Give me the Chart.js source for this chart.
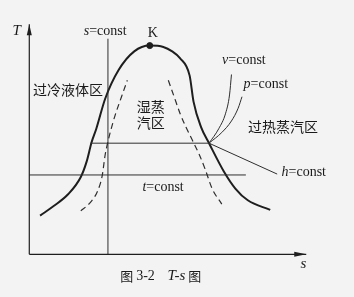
<!DOCTYPE html>
<html>
<head>
<meta charset="utf-8">
<script src="https://cdn.jsdelivr.net/npm/chart.js@4/dist/chart.umd.min.js"></script>
<style>
  html, body { margin: 0; padding: 0; background: #f3f3f3; }
  #wrap { width: 354px; height: 297px; }
</style>
</head>
<body>
<div id="wrap"><canvas id="ts" width="354" height="297"></canvas></div>
<script>
// Saturation dome (entropy s, temperature T in arbitrary units)
const domeS = [0.39, 0.88, 1.40, 1.86, 2.07, 2.25, 2.42, 2.74, 3.23, 3.79, 4.35, 4.84, 5.16, 5.44, 5.79, 5.93, 6.21, 6.49, 7.02, 7.44, 7.89, 8.70];
const domeT = [1.74, 2.17, 2.70, 3.48, 4.17, 5.04, 5.65, 7.00, 8.30, 9.13, 9.39, 9.33, 9.13, 8.83, 8.04, 6.87, 5.70, 5.00, 3.74, 2.96, 2.43, 2.00];

// Critical point K
const critS = [4.35];
const critT = [9.39];

// Dashed curves inside / beside the dome
const leftDashS = [1.86, 2.18, 2.46, 2.63, 2.74, 2.81, 2.91, 3.09, 3.33, 3.54];
const leftDashT = [1.96, 2.30, 2.83, 3.52, 4.48, 4.91, 5.43, 6.22, 7.09, 7.83];
const rightDashS = [5.02, 5.23, 5.44, 5.65, 5.89, 6.14, 6.35, 6.60, 6.95];
const rightDashT = [7.83, 7.09, 6.35, 5.74, 5.13, 4.48, 3.83, 2.96, 2.26];

// Isolines
const isoS_S = [2.84, 2.84];        // s = const
const isoS_T = [0, 9.70];
const isoT_S = [0, 7.82];           // t = const
const isoT_T = [3.57, 3.57];
const isoP_horizS = [2.21, 6.49];   // saturation temperature line
const isoP_horizT = [5.00, 5.00];
const isoH_S = [6.49, 8.95];        // h = const
const isoH_T = [5.00, 3.61];
const isoV_S = [6.49, 6.84, 7.09, 7.23, 7.30];   // v = const
const isoV_T = [5.00, 5.65, 6.35, 7.17, 8.09];
const isoP_S = [6.49, 6.95, 7.30, 7.54, 7.68];   // p = const
const isoP_T = [5.00, 5.48, 6.00, 6.57, 7.09];

// Coordinate axes
const axisT_S = [0, 0];
const axisT_T = [0, 10.35];
const axisS_S = [0, 10.0];
const axisS_T = [0, 0];

function pts(xs, ys) { return xs.map((x, i) => ({ x: x, y: ys[i] })); }

const INK = '#1e1e1e';
const THIN = '#2e2e2e';
const SERIF = '"Liberation Serif", "DejaVu Serif", serif';
const CJK = '"Noto Sans CJK SC", sans-serif';

// Text labels: segments of [text, font]
const labels = [
  { s: -0.46, T: 10.04, parts: [['T', 'italic 15px ' + SERIF]] },
  { s: 2.74, T: 10.04, parts: [['s', 'italic 14px ' + SERIF], ['=const', '14px ' + SERIF]] },
  { s: 4.46, T: 9.96, parts: [['K', '14px ' + SERIF]] },
  { s: 1.40, T: 7.39, parts: [['过冷液体区', '14px ' + CJK]] },
  { s: 4.39, T: 6.65, parts: [['湿蒸', '14px ' + CJK]] },
  { s: 4.39, T: 5.91, parts: [['汽区', '14px ' + CJK]] },
  { s: 7.75, T: 8.74, parts: [['v', 'italic 14px ' + SERIF], ['=const', '14px ' + SERIF]] },
  { s: 8.54, T: 7.65, parts: [['p', 'italic 14px ' + SERIF], ['=const', '14px ' + SERIF]] },
  { s: 9.16, T: 5.74, parts: [['过热蒸汽区', '14px ' + CJK]] },
  { s: 9.91, T: 3.70, parts: [['h', 'italic 14px ' + SERIF], ['=const', '14px ' + SERIF]] },
  { s: 4.83, T: 3.00, parts: [['t', 'italic 14px ' + SERIF], ['=const', '14px ' + SERIF]] },
  { s: 9.90, T: -0.43, parts: [['s', 'italic 15px ' + SERIF]] },
  { s: 3.91, T: -1.00, parts: [['图 ', '13px ' + CJK], ['3-2', '14px ' + SERIF]] },
  { s: 5.60, T: -1.00, parts: [['T-s', 'italic 15px ' + SERIF], [' 图', '13px ' + CJK]] }
];

const backdrop = {
  id: 'backdrop',
  beforeDraw(chart) {
    const c = chart.ctx;
    c.save();
    c.fillStyle = '#f3f3f3';
    c.fillRect(0, 0, chart.width, chart.height);
    c.restore();
  }
};

const decorations = {
  id: 'decorations',
  afterDatasetsDraw(chart) {
    const c = chart.ctx;
    const xs = chart.scales.x, ys = chart.scales.y;
    c.save();
    // axis arrowheads
    c.fillStyle = INK;
    const tx = xs.getPixelForValue(axisT_S[1]), ty = ys.getPixelForValue(axisT_T[1]);
    c.beginPath();
    c.moveTo(tx, ty);
    c.lineTo(tx - 2.5, ty + 11);
    c.lineTo(tx + 2.5, ty + 11);
    c.closePath();
    c.fill();
    const ax = xs.getPixelForValue(axisS_S[1]), ay = ys.getPixelForValue(axisS_T[1]);
    c.beginPath();
    c.moveTo(ax, ay);
    c.lineTo(ax - 12, ay - 2.5);
    c.lineTo(ax - 12, ay + 2.5);
    c.closePath();
    c.fill();

    // labels
    c.fillStyle = '#1a1a1a';
    c.textBaseline = 'middle';
    c.textAlign = 'left';
    labels.forEach(l => {
      let w = 0;
      l.parts.forEach(p => { c.font = p[1]; w += c.measureText(p[0]).width; });
      let x = xs.getPixelForValue(l.s) - w / 2;
      const y = ys.getPixelForValue(l.T);
      l.parts.forEach(p => {
        c.font = p[1];
        c.fillText(p[0], x, y);
        x += c.measureText(p[0]).width;
      });
    });
    c.restore();
  }
};

function line(xs, ys, opts) {
  return Object.assign({
    data: pts(xs, ys),
    showLine: true,
    pointRadius: 0,
    borderColor: THIN,
    borderWidth: 1,
    tension: 0,
    fill: false
  }, opts || {});
}

new Chart(document.getElementById('ts'), {
  type: 'scatter',
  data: {
    datasets: [
      line(axisT_S, axisT_T, { borderColor: INK, borderWidth: 1.2 }),
      line(axisS_S, axisS_T, { borderColor: INK, borderWidth: 1.2 }),
      line(isoS_S, isoS_T),
      line(isoT_S, isoT_T),
      line(isoP_horizS, isoP_horizT),
      line(isoH_S, isoH_T),
      line(isoV_S, isoV_T, { tension: 0.4, cubicInterpolationMode: 'monotone' }),
      line(isoP_S, isoP_T, { tension: 0.4, cubicInterpolationMode: 'monotone' }),
      line(leftDashS, leftDashT, { borderDash: [6, 4], borderWidth: 1.2, cubicInterpolationMode: 'monotone' }),
      line(rightDashS, rightDashT, { borderDash: [6, 4], borderWidth: 1.2, cubicInterpolationMode: 'monotone' }),
      line(domeS, domeT, { borderColor: INK, borderWidth: 2, cubicInterpolationMode: 'monotone' }),
      { data: pts(critS, critT), pointRadius: 3, pointBackgroundColor: INK, pointBorderColor: INK, showLine: false }
    ]
  },
  options: {
    responsive: false,
    animation: false,
    events: [],
    layout: { padding: 0 },
    plugins: { legend: { display: false }, tooltip: { enabled: false }, title: { display: false } },
    scales: {
      x: { type: 'linear', display: false, min: -0.877, max: 11.544 },
      y: { type: 'linear', display: false, min: -1.696, max: 11.217 }
    }
  },
  plugins: [backdrop, decorations]
});
</script>
</body>
</html>
